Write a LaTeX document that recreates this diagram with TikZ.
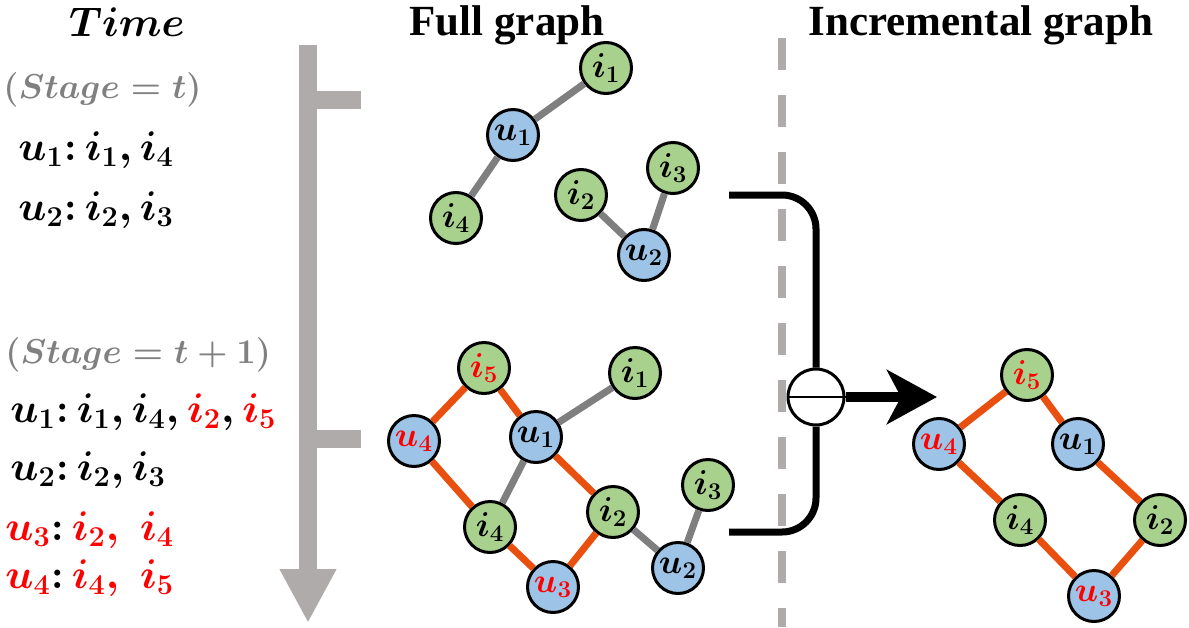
\documentclass[tikz,border=0pt]{standalone}
\usepackage{amsmath}
\usepackage{xcolor}
\usepackage{fontspec}
\newfontfamily\headfont{Liberation Serif}
\usepackage{tikz}
\usetikzlibrary{
  arrows.meta
}

\definecolor{itemgreen}{HTML}{A9D18E}
\definecolor{userblue}{HTML}{9DC3E6}
\definecolor{neworange}{HTML}{E9500F}
\definecolor{edgegray}{HTML}{7F7F7F}
\definecolor{timegray}{HTML}{AFABAB}
\definecolor{stagegray}{HTML}{808080}
\definecolor{newred}{HTML}{FF0000}

\begin{document}
\begin{tikzpicture}[
  x=0.5pt, y=-0.5pt,
  item/.style={
    circle,
    draw=black,
    line width=1.5pt,
    fill=itemgreen,
    minimum size=25.5pt,
    inner sep=0pt,
    font=\fontsize{17.5}{17.5}\selectfont\boldmath
  },
  user/.style={
    item,
    fill=userblue
  },
  oldedge/.style={
    line width=3.5pt,
    draw=edgegray
  },
  newedge/.style={
    line width=3.5pt,
    draw=neworange
  },
  listline/.style={
    anchor=west,
    inner sep=0pt,
    font=\fontsize{20}{20}\selectfont\boldmath
  },
  stageline/.style={
    listline,
    font=\fontsize{19}{19}\selectfont\boldmath,
    text=stagegray
  },
  heading/.style={
    anchor=base,
    inner sep=0pt,
    font=\headfont\bfseries\fontsize{21.5}{21.5}\selectfont
  },
  timebar/.style={
    line width=9pt,
    draw=timegray
  },
  bracket/.style={
    line width=3.5pt,
    draw=black,
    rounded corners=17pt
  }
]

\useasboundingbox (0,0) rectangle (1189,627);

% Headings
\node[font=\fontsize{22}{22}\selectfont\boldmath] (time) at (127,22) {$Time$};
\node[heading] (fullhead) at (507,35) {Full graph};
\node[heading] (incrhead) at (981,35) {Incremental graph};

% Interaction lists (left column)
\node[stageline] (stage1) at (3,90) {$(Stage=t)$};
\node[listline] (s1u1) at (18,150) {$u_1{:}\,i_1,i_4$};
\node[listline] (s1u2) at (18,210) {$u_2{:}\,i_2,i_3$};

\node[stageline] (stage2) at (5,355) {$(Stage=t+1)$};
\node[listline] (s2u1) at (10,412) {$u_1{:}\,i_1,i_4,\textcolor{newred}{i_2},\textcolor{newred}{i_5}$};
\node[listline] (s2u2) at (10,470) {$u_2{:}\,i_2,i_3$};
\node[listline, text=newred] (s2u3) at (5,530) {$u_3\textcolor{black}{:}\,i_2,\;i_4$};
\node[listline, text=newred] (s2u4) at (5,578) {$u_4\textcolor{black}{:}\,i_4,\;i_5$};

% Time axis
\coordinate (tstart) at (308,45);
\coordinate (tend) at (308,623);
\draw[timebar, -{Triangle[length=27pt, width=26.5pt]}] (tstart) -- (tend);
\draw[timebar] (312,100) -- (361,100);
\draw[timebar] (312,439) -- (361,439);

% Separator
\draw[timegray, line width=4pt, dash pattern=on 16pt off 12.5pt] (782,38) -- (782,627);

% Full graph, stage t
\node[item] (a1) at (606,68) {$i_1$};
\node[user] (au1) at (513,135) {$u_1$};
\node[item] (a4) at (456,218) {$i_4$};
\node[item] (a2) at (581,195) {$i_2$};
\node[item] (a3) at (673,168) {$i_3$};
\node[user] (au2) at (644,255) {$u_2$};

\draw[oldedge] (au1) -- (a1);
\draw[oldedge] (au1) -- (a4);
\draw[oldedge] (a2) -- (au2);
\draw[oldedge] (au2) -- (a3);

% Full graph, stage t+1
\node[item, text=newred] (b5) at (484,368) {$i_5$};
\node[item] (b1) at (635,373) {$i_1$};
\node[user, text=newred] (bu4) at (414,441) {$u_4$};
\node[user] (bu1) at (536,437) {$u_1$};
\node[item] (b3) at (708,485) {$i_3$};
\node[item] (b2) at (613,512) {$i_2$};
\node[item] (b4) at (490,527) {$i_4$};
\node[user, text=newred] (bu3) at (553,587) {$u_3$};
\node[user] (bu2) at (678,568) {$u_2$};

\draw[oldedge] (bu1) -- (b1);
\draw[oldedge] (bu1) -- (b4);
\draw[oldedge] (b2) -- (bu2);
\draw[oldedge] (bu2) -- (b3);

\draw[newedge] (bu4) -- (b5);
\draw[newedge] (b5) -- (bu1);
\draw[newedge] (bu1) -- (b2);
\draw[newedge] (bu4) -- (b4);
\draw[newedge] (b4) -- (bu3);
\draw[newedge] (bu3) -- (b2);

% Difference operator
\node[circle, draw=black, line width=1.5pt, fill=white, minimum size=28pt, inner sep=0pt] (diff) at (816,397) {};
\draw[line width=1pt] (diff.west) -- (diff.east);
\draw[bracket] (729,195) -| (diff.north);
\draw[bracket] (729,532) -| (diff.south);
\coordinate (arrowtip) at (937,397);
\draw[line width=5pt, -{Stealth[length=25pt, width=27pt, inset=7pt]}] (diff.east) -- (arrowtip);

% Incremental graph
\node[item, text=newred] (c5) at (1027,375) {$i_5$};
\node[user, text=newred] (cu4) at (939,444) {$u_4$};
\node[user] (cu1) at (1078,444) {$u_1$};
\node[item] (c4) at (1020,520) {$i_4$};
\node[item] (c2) at (1160,520) {$i_2$};
\node[user, text=newred] (cu3) at (1094,596) {$u_3$};

\draw[newedge] (cu4) -- (c5);
\draw[newedge] (c5) -- (cu1);
\draw[newedge] (cu1) -- (c2);
\draw[newedge] (cu4) -- (c4);
\draw[newedge] (c4) -- (cu3);
\draw[newedge] (cu3) -- (c2);

\end{tikzpicture}
\end{document}
